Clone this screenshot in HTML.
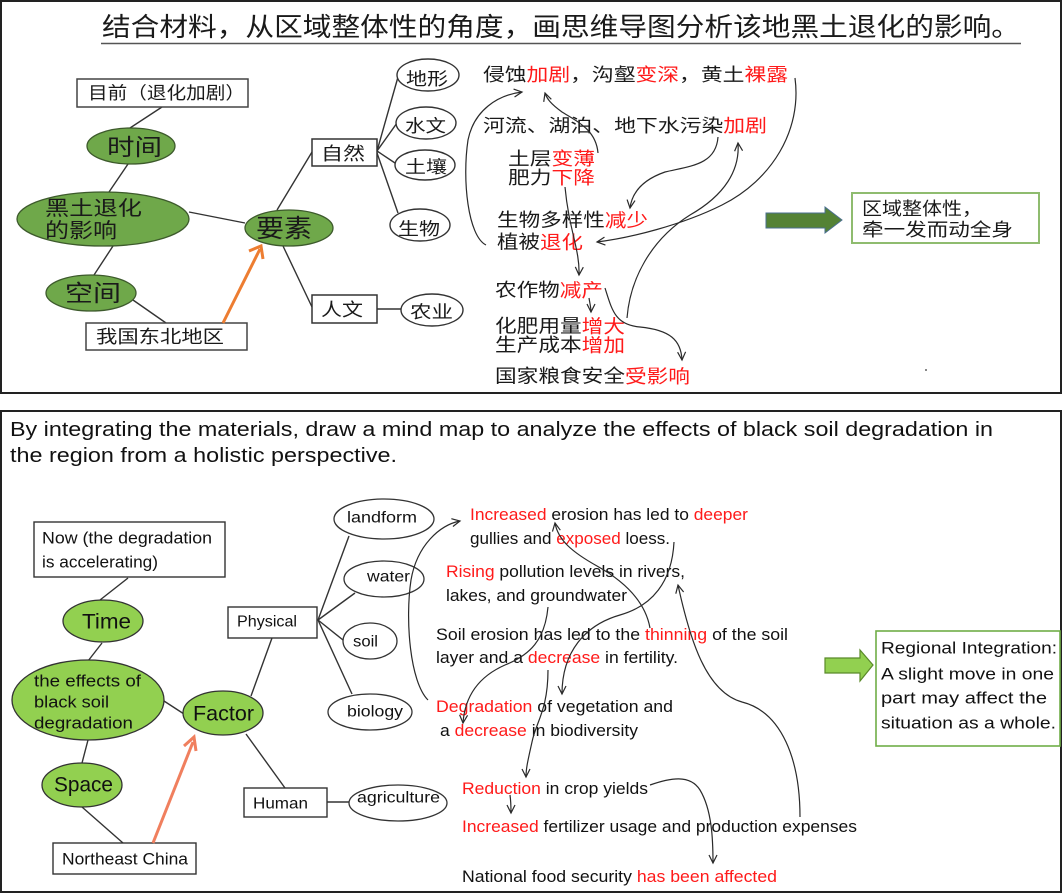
<!DOCTYPE html>
<html><head><meta charset="utf-8">
<style>
html,body{margin:0;padding:0;background:#fff;}
svg{display:block;}
.cn{font-family:"Liberation Sans","Noto Sans CJK SC",sans-serif;fill:#1a1a1a;}
.en{font-family:"Liberation Sans",sans-serif;fill:#111;}
.r{fill:#ff1a1a;}
.ln{stroke:#333;stroke-width:1.4;fill:none;}
.cv{stroke:#2a2a2a;stroke-width:1.2;fill:none;}
</style></head>
<body>
<svg width="1063" height="894" viewBox="0 0 1063 894" xmlns="http://www.w3.org/2000/svg">
<defs>
<marker id="ah" markerUnits="userSpaceOnUse" markerWidth="12" markerHeight="12" refX="9" refY="5" orient="auto">
<path d="M1,1 L9,5 L1,9" fill="none" stroke="#2a2a2a" stroke-width="1.2"/>
</marker>
</defs>
<rect x="0" y="0" width="1063" height="894" fill="#fff"/>

<!-- ============ TOP PANEL ============ -->
<rect x="1" y="1" width="1060" height="392" fill="none" stroke="#222" stroke-width="2"/>
<text class="cn" x="102" y="27" font-size="26" dominant-baseline="central" textLength="918" lengthAdjust="spacingAndGlyphs">结合材料，从区域整体性的角度，画思维导图分析该地黑土退化的影响。</text>
<line x1="101" y1="43.5" x2="1021" y2="43.5" stroke="#555" stroke-width="1.6"/>

<!-- connector lines -->
<line class="ln" x1="162" y1="107" x2="130" y2="128"/>
<line class="ln" x1="128" y1="164" x2="109" y2="192"/>
<line class="ln" x1="113" y1="246" x2="94" y2="275"/>
<line class="ln" x1="133" y1="300" x2="166" y2="323"/>
<line class="ln" x1="189" y1="212" x2="245" y2="223"/>
<line class="ln" x1="277" y1="210" x2="312" y2="152"/>
<line class="ln" x1="283" y1="246" x2="312" y2="307"/>
<line class="ln" x1="377" y1="309" x2="401" y2="309"/>
<line class="ln" x1="377" y1="151" x2="398" y2="77"/>
<line class="ln" x1="377" y1="151" x2="397" y2="123"/>
<line class="ln" x1="377" y1="151" x2="395" y2="163"/>
<line class="ln" x1="377" y1="153" x2="398" y2="213"/>

<!-- boxes -->
<rect x="77" y="79" width="171" height="28" fill="#fff" stroke="#444" stroke-width="1.5"/>
<text class="cn" x="88" y="93" font-size="17.5" dominant-baseline="central" textLength="157" lengthAdjust="spacingAndGlyphs">目前（退化加剧）</text>
<rect x="86" y="323" width="161" height="27" fill="#fff" stroke="#444" stroke-width="1.5"/>
<text class="cn" x="96" y="337" font-size="18" dominant-baseline="central" textLength="128" lengthAdjust="spacingAndGlyphs">我国东北地区</text>
<rect x="312" y="139" width="65" height="27" fill="#fff" stroke="#333" stroke-width="1.5"/>
<text class="cn" x="321" y="154" font-size="18" dominant-baseline="central" textLength="44" lengthAdjust="spacingAndGlyphs">自然</text>
<rect x="312" y="295" width="65" height="28" fill="#fff" stroke="#333" stroke-width="1.5"/>
<text class="cn" x="321" y="310" font-size="18" dominant-baseline="central" textLength="42" lengthAdjust="spacingAndGlyphs">人文</text>

<!-- green ellipses -->
<ellipse cx="131" cy="146" rx="44" ry="18" fill="#6fa84a" stroke="#3d5a2c" stroke-width="1.3"/>
<text class="cn" x="107" y="147" font-size="23" dominant-baseline="central" textLength="55" lengthAdjust="spacingAndGlyphs">时间</text>
<ellipse cx="103" cy="219" rx="86" ry="27" fill="#6fa84a" stroke="#3d5a2c" stroke-width="1.3"/>
<text class="cn" x="45" y="209" font-size="20" dominant-baseline="central" textLength="97" lengthAdjust="spacingAndGlyphs">黑土退化</text>
<text class="cn" x="45" y="231" font-size="20.5" dominant-baseline="central" textLength="72" lengthAdjust="spacingAndGlyphs">的影响</text>
<ellipse cx="91" cy="293" rx="45" ry="18" fill="#6fa84a" stroke="#3d5a2c" stroke-width="1.3"/>
<text class="cn" x="65" y="293" font-size="23" dominant-baseline="central" textLength="56" lengthAdjust="spacingAndGlyphs">空间</text>
<ellipse cx="289" cy="228" rx="44" ry="18" fill="#6fa84a" stroke="#3d5a2c" stroke-width="1.3"/>
<text class="cn" x="256" y="229" font-size="25" dominant-baseline="central" textLength="56" lengthAdjust="spacingAndGlyphs">要素</text>

<!-- white ellipses -->
<ellipse cx="428" cy="75" rx="31" ry="16" fill="#fff" stroke="#333" stroke-width="1.4"/>
<text class="cn" x="406" y="79" font-size="17.5" dominant-baseline="central" textLength="42" lengthAdjust="spacingAndGlyphs">地形</text>
<ellipse cx="426" cy="123" rx="30" ry="16" fill="#fff" stroke="#333" stroke-width="1.4"/>
<text class="cn" x="405" y="126" font-size="17.5" dominant-baseline="central" textLength="41" lengthAdjust="spacingAndGlyphs">水文</text>
<ellipse cx="425" cy="165" rx="30" ry="15" fill="#fff" stroke="#333" stroke-width="1.4"/>
<text class="cn" x="405" y="167" font-size="17.5" dominant-baseline="central" textLength="42" lengthAdjust="spacingAndGlyphs">土壤</text>
<ellipse cx="420" cy="225" rx="30" ry="16" fill="#fff" stroke="#333" stroke-width="1.4"/>
<text class="cn" x="398" y="229" font-size="17.5" dominant-baseline="central" textLength="42" lengthAdjust="spacingAndGlyphs">生物</text>
<ellipse cx="432" cy="310" rx="31" ry="16" fill="#fff" stroke="#333" stroke-width="1.4"/>
<text class="cn" x="410" y="312" font-size="17.5" dominant-baseline="central" textLength="43" lengthAdjust="spacingAndGlyphs">农业</text>

<!-- orange arrow top -->
<line x1="223" y1="323" x2="260" y2="249" stroke="#ed7d31" stroke-width="3"/>
<polyline points="249,251 261,246 263,259" fill="none" stroke="#ed7d31" stroke-width="3"/>

<!-- right texts -->
<text class="cn" x="483" y="75" font-size="18" dominant-baseline="central" textLength="305" lengthAdjust="spacingAndGlyphs">侵蚀<tspan class="r">加剧</tspan>，沟壑<tspan class="r">变深</tspan>，黄土<tspan class="r">裸露</tspan></text>
<text class="cn" x="483" y="126" font-size="18" dominant-baseline="central" textLength="284" lengthAdjust="spacingAndGlyphs">河流、湖泊、地下水污染<tspan class="r">加剧</tspan></text>
<text class="cn" x="508" y="159" font-size="18" dominant-baseline="central" textLength="87" lengthAdjust="spacingAndGlyphs">土层<tspan class="r">变薄</tspan></text>
<text class="cn" x="508" y="178" font-size="18" dominant-baseline="central" textLength="87" lengthAdjust="spacingAndGlyphs">肥力<tspan class="r">下降</tspan></text>
<text class="cn" x="497" y="220" font-size="18.5" dominant-baseline="central" textLength="151" lengthAdjust="spacingAndGlyphs">生物多样性<tspan class="r">减少</tspan></text>
<text class="cn" x="497" y="242" font-size="18.5" dominant-baseline="central" textLength="86" lengthAdjust="spacingAndGlyphs">植被<tspan class="r">退化</tspan></text>
<text class="cn" x="495" y="290" font-size="18.5" dominant-baseline="central" textLength="108" lengthAdjust="spacingAndGlyphs">农作物<tspan class="r">减产</tspan></text>
<text class="cn" x="495" y="326" font-size="18.5" dominant-baseline="central" textLength="130" lengthAdjust="spacingAndGlyphs">化肥用量<tspan class="r">增大</tspan></text>
<text class="cn" x="495" y="345" font-size="18.5" dominant-baseline="central" textLength="130" lengthAdjust="spacingAndGlyphs">生产成本<tspan class="r">增加</tspan></text>
<text class="cn" x="495" y="376" font-size="18.5" dominant-baseline="central" textLength="195" lengthAdjust="spacingAndGlyphs">国家粮食安全<tspan class="r">受影响</tspan></text>

<!-- top curves -->
<path class="cv" d="M486,245 C468,236 462,180 468,140 C474,110 498,95 522,92" marker-end="url(#ah)"/>
<path class="cv" d="M598,153 C596,130 578,122 562,112 C551,104 547,99 545,93" marker-end="url(#ah)"/>
<path class="cv" d="M718,137 C716,165 690,166 665,172 C642,180 632,193 630,208" marker-end="url(#ah)"/>
<path class="cv" d="M795,78 C802,130 772,180 722,205 C682,225 630,238 597,242" marker-end="url(#ah)"/>
<path class="cv" d="M627,318 C630,280 650,240 690,215 C725,195 740,170 738,143" marker-end="url(#ah)"/>
<path class="cv" d="M565,187 C569,230 580,250 579,275" marker-end="url(#ah)"/>
<path class="cv" d="M589,298 C590,304 591,308 591,312" marker-end="url(#ah)"/>
<path class="cv" d="M605,288 C612,310 615,325 640,327 C670,330 681,340 682,360" marker-end="url(#ah)"/>

<!-- green arrow & box top -->
<polygon points="766,213 825,213 825,207 842,220 825,233 825,228 766,228" fill="#548235" stroke="#4a6f8f" stroke-width="1"/>
<rect x="852" y="193" width="187" height="50" fill="#fff" stroke="#8fbc6f" stroke-width="2"/>
<text class="cn" x="862" y="209" font-size="18" dominant-baseline="central" textLength="120" lengthAdjust="spacingAndGlyphs">区域整体性，</text>
<text class="cn" x="862" y="230" font-size="18" dominant-baseline="central" textLength="151" lengthAdjust="spacingAndGlyphs">牵一发而动全身</text>
<rect x="925" y="369" width="2" height="2" fill="#888"/>

<!-- ============ BOTTOM PANEL ============ -->
<rect x="1" y="411" width="1060" height="481" fill="none" stroke="#222" stroke-width="2"/>
<text class="en" x="10" y="430" font-size="20" dominant-baseline="central" textLength="983" lengthAdjust="spacingAndGlyphs">By integrating the materials, draw a mind map to analyze the effects of black soil degradation in</text>
<text class="en" x="10" y="456" font-size="20" dominant-baseline="central" textLength="387" lengthAdjust="spacingAndGlyphs">the region from a holistic perspective.</text>

<!-- lines -->
<line class="ln" x1="128" y1="578" x2="100" y2="600"/>
<line class="ln" x1="102" y1="643" x2="88" y2="661"/>
<line class="ln" x1="88" y1="740" x2="82" y2="763"/>
<line class="ln" x1="82" y1="807" x2="123" y2="843"/>
<line class="ln" x1="164" y1="701" x2="184" y2="714"/>
<line class="ln" x1="251" y1="696" x2="272" y2="638"/>
<line class="ln" x1="246" y1="734" x2="285" y2="788"/>
<line class="ln" x1="327" y1="802" x2="349" y2="802"/>
<line class="ln" x1="318" y1="620" x2="349" y2="536"/>
<line class="ln" x1="318" y1="620" x2="355" y2="593"/>
<line class="ln" x1="318" y1="620" x2="343" y2="640"/>
<line class="ln" x1="318" y1="620" x2="352" y2="694"/>

<!-- boxes -->
<rect x="34" y="522" width="191" height="55" fill="#fff" stroke="#333" stroke-width="1.4"/>
<text class="en" x="42" y="538" font-size="17" dominant-baseline="central" textLength="170" lengthAdjust="spacingAndGlyphs">Now (the degradation</text>
<text class="en" x="42" y="562" font-size="17" dominant-baseline="central" textLength="116" lengthAdjust="spacingAndGlyphs">is accelerating)</text>
<rect x="53" y="843" width="143" height="31" fill="#fff" stroke="#333" stroke-width="1.4"/>
<text class="en" x="62" y="859" font-size="17" dominant-baseline="central" textLength="126" lengthAdjust="spacingAndGlyphs">Northeast China</text>
<rect x="228" y="607" width="89" height="31" fill="#fff" stroke="#333" stroke-width="1.4"/>
<text class="en" x="237" y="622" font-size="16" dominant-baseline="central" textLength="60" lengthAdjust="spacingAndGlyphs">Physical</text>
<rect x="244" y="788" width="83" height="29" fill="#fff" stroke="#333" stroke-width="1.4"/>
<text class="en" x="253" y="804" font-size="16" dominant-baseline="central" textLength="55" lengthAdjust="spacingAndGlyphs">Human</text>

<!-- green ellipses -->
<ellipse cx="103" cy="621" rx="40" ry="21" fill="#92d050" stroke="#333" stroke-width="1.3"/>
<text class="en" x="82" y="622" font-size="21" dominant-baseline="central" textLength="49" lengthAdjust="spacingAndGlyphs">Time</text>
<ellipse cx="88" cy="700" rx="76" ry="40" fill="#92d050" stroke="#333" stroke-width="1.3"/>
<text class="en" x="34" y="681" font-size="17" dominant-baseline="central" textLength="107" lengthAdjust="spacingAndGlyphs">the effects of</text>
<text class="en" x="34" y="702" font-size="17" dominant-baseline="central" textLength="75" lengthAdjust="spacingAndGlyphs">black soil</text>
<text class="en" x="34" y="723" font-size="17" dominant-baseline="central" textLength="99" lengthAdjust="spacingAndGlyphs">degradation</text>
<ellipse cx="82" cy="785" rx="40" ry="22" fill="#92d050" stroke="#333" stroke-width="1.3"/>
<text class="en" x="54" y="785" font-size="21" dominant-baseline="central" textLength="59" lengthAdjust="spacingAndGlyphs">Space</text>
<ellipse cx="223" cy="713" rx="40" ry="22" fill="#92d050" stroke="#333" stroke-width="1.3"/>
<text class="en" x="193" y="714" font-size="21" dominant-baseline="central" textLength="61" lengthAdjust="spacingAndGlyphs">Factor</text>

<!-- white ellipses -->
<ellipse cx="384" cy="519" rx="50" ry="20" fill="#fff" stroke="#333" stroke-width="1.3"/>
<text class="en" x="347" y="518" font-size="16" dominant-baseline="central" textLength="70" lengthAdjust="spacingAndGlyphs">landform</text>
<ellipse cx="384" cy="579" rx="40" ry="18" fill="#fff" stroke="#333" stroke-width="1.3"/>
<text class="en" x="367" y="577" font-size="16" dominant-baseline="central" textLength="43" lengthAdjust="spacingAndGlyphs">water</text>
<ellipse cx="370" cy="641" rx="27" ry="18" fill="#fff" stroke="#333" stroke-width="1.3"/>
<text class="en" x="353" y="642" font-size="16" dominant-baseline="central" textLength="25" lengthAdjust="spacingAndGlyphs">soil</text>
<ellipse cx="370" cy="712" rx="42" ry="18" fill="#fff" stroke="#333" stroke-width="1.3"/>
<text class="en" x="347" y="712" font-size="16" dominant-baseline="central" textLength="56" lengthAdjust="spacingAndGlyphs">biology</text>
<ellipse cx="398" cy="803" rx="49" ry="18" fill="#fff" stroke="#333" stroke-width="1.3"/>
<text class="en" x="357" y="798" font-size="16" dominant-baseline="central" textLength="83" lengthAdjust="spacingAndGlyphs">agriculture</text>

<!-- orange arrow bottom -->
<line x1="153" y1="843" x2="193" y2="742" stroke="#f07f5e" stroke-width="3"/>
<polyline points="184,746 194,737 196,751" fill="none" stroke="#f07f5e" stroke-width="3"/>

<!-- middle texts -->
<text class="en" x="470" y="515" font-size="16.5" dominant-baseline="central" textLength="278" lengthAdjust="spacingAndGlyphs"><tspan class="r">Increased</tspan> erosion has led to <tspan class="r">deeper</tspan></text>
<text class="en" x="470" y="539" font-size="16.5" dominant-baseline="central" textLength="200" lengthAdjust="spacingAndGlyphs">gullies and <tspan class="r">exposed</tspan> loess.</text>
<text class="en" x="446" y="572" font-size="16.5" dominant-baseline="central" textLength="239" lengthAdjust="spacingAndGlyphs"><tspan class="r">Rising</tspan> pollution levels in rivers,</text>
<text class="en" x="446" y="596" font-size="16.5" dominant-baseline="central" textLength="181" lengthAdjust="spacingAndGlyphs">lakes, and groundwater</text>
<text class="en" x="436" y="635" font-size="16.5" dominant-baseline="central" textLength="352" lengthAdjust="spacingAndGlyphs">Soil erosion has led to the <tspan class="r">thinning</tspan> of the soil</text>
<text class="en" x="436" y="658" font-size="16.5" dominant-baseline="central" textLength="242" lengthAdjust="spacingAndGlyphs">layer and a <tspan class="r">decrease</tspan> in fertility.</text>
<text class="en" x="436" y="707" font-size="16.5" dominant-baseline="central" textLength="237" lengthAdjust="spacingAndGlyphs"><tspan class="r">Degradation</tspan> of vegetation and</text>
<text class="en" x="440" y="731" font-size="16.5" dominant-baseline="central" textLength="198" lengthAdjust="spacingAndGlyphs">a <tspan class="r">decrease</tspan> in biodiversity</text>
<text class="en" x="462" y="789" font-size="16.5" dominant-baseline="central" textLength="186" lengthAdjust="spacingAndGlyphs"><tspan class="r">Reduction</tspan> in crop yields</text>
<text class="en" x="462" y="827" font-size="16.5" dominant-baseline="central" textLength="395" lengthAdjust="spacingAndGlyphs"><tspan class="r">Increased</tspan> fertilizer usage and production expenses</text>
<text class="en" x="462" y="877" font-size="16.5" dominant-baseline="central" textLength="315" lengthAdjust="spacingAndGlyphs">National food security <tspan class="r">has been affected</tspan></text>

<!-- bottom curves -->
<path class="cv" d="M428,700 C410,682 405,620 411,580 C417,545 440,525 460,521" marker-end="url(#ah)"/>
<path class="cv" d="M650,628 C645,600 622,580 597,566 C572,552 558,540 555,523" marker-end="url(#ah)"/>
<path class="cv" d="M674,542 C672,582 652,606 620,615 C585,625 562,652 562,694" marker-end="url(#ah)"/>
<path class="cv" d="M548,607 C545,640 530,655 505,665 C480,676 465,695 463,723" marker-end="url(#ah)"/>
<path class="cv" d="M548,670 C548,710 536,722 532,742 C528,760 526,768 526,777" marker-end="url(#ah)"/>
<path class="cv" d="M510,795 C511,802 511,808 511,813" marker-end="url(#ah)"/>
<path class="cv" d="M650,785 C670,778 690,774 700,790 C712,810 713,840 713,863" marker-end="url(#ah)"/>
<path class="cv" d="M800,817 C800,760 782,712 742,702 C706,692 690,640 678,585" marker-end="url(#ah)"/>

<!-- green arrow & box bottom -->
<polygon points="825,658 860,658 860,650 873,665 860,681 860,673 825,673" fill="#92d050" stroke="#5a8a2a" stroke-width="1.2"/>
<rect x="876" y="631" width="184" height="115" fill="#fff" stroke="#70ad47" stroke-width="1.6"/>
<text class="en" x="881" y="648" font-size="17" dominant-baseline="central" textLength="176" lengthAdjust="spacingAndGlyphs">Regional Integration:</text>
<text class="en" x="881" y="674" font-size="17" dominant-baseline="central" textLength="173" lengthAdjust="spacingAndGlyphs">A slight move in one</text>
<text class="en" x="881" y="698" font-size="17" dominant-baseline="central" textLength="166" lengthAdjust="spacingAndGlyphs">part may affect the</text>
<text class="en" x="881" y="723" font-size="17" dominant-baseline="central" textLength="175" lengthAdjust="spacingAndGlyphs">situation as a whole.</text>
</svg>
</body></html>
